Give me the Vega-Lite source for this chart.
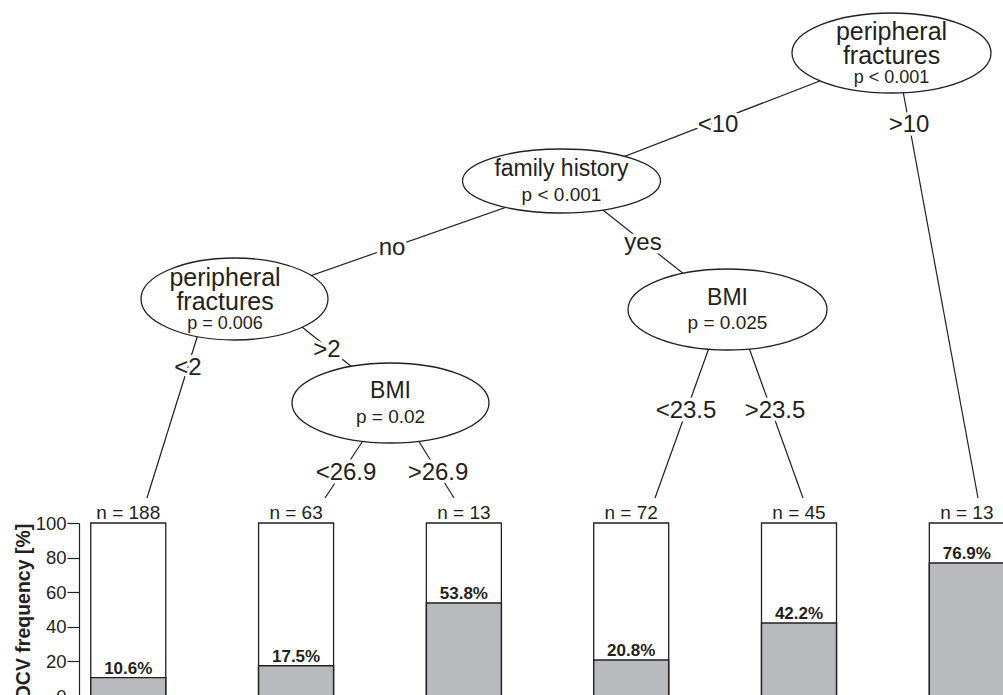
{
  "$schema": "https://vega.github.io/schema/vega-lite/v6.json",
  "autosize": {"type": "pad"},
  "padding": 0,
  "background": "white",
  "bounds": "flush",
  "spacing": 0,
  "config": {
    "font": "Liberation Sans",
    "view": {"stroke": null},
    "axis": {"labelOverlap": false, "labelSeparation": -40},
    "axisY": {"labelOverlap": false, "labelFlush": false, "labelBound": false, "labelSeparation": -40, "labelFontSize": 18.5, "labelPadding": 1, "tickSize": 12, "grid": false}
  },
  "datasets": {
    "nodes": [
      {"id": "n1", "x": 891.5, "y": 53, "label": "peripheral\nfractures", "p": "p < 0.001"},
      {"id": "n2", "x": 561.5, "y": 181, "label": "family history", "p": "p < 0.001"},
      {"id": "n3", "x": 225, "y": 299, "label": "peripheral\nfractures", "p": "p = 0.006"},
      {"id": "n4", "x": 390.5, "y": 403, "label": "BMI", "p": "p = 0.02"},
      {"id": "n5", "x": 727.5, "y": 309.5, "label": "BMI", "p": "p = 0.025"}
    ],
    "edges": [
      {"x": 892, "y": 53, "x2": 561, "y2": 181, "label": "<10", "lx": 718, "ly": 132},
      {"x": 896, "y": 53, "x2": 978, "y2": 498, "label": ">10", "lx": 909, "ly": 132},
      {"x": 561, "y": 188, "x2": 250, "y2": 297, "label": "no", "lx": 392, "ly": 255},
      {"x": 561, "y": 177, "x2": 727, "y2": 308, "label": "yes", "lx": 643, "ly": 250},
      {"x": 209, "y": 299, "x2": 147, "y2": 498, "label": "<2", "lx": 188, "ly": 375},
      {"x": 267, "y": 299, "x2": 397, "y2": 403, "label": ">2", "lx": 327, "ly": 357},
      {"x": 388, "y": 403, "x2": 325, "y2": 498, "label": "<26.9", "lx": 346, "ly": 480},
      {"x": 395, "y": 403, "x2": 454, "y2": 498, "label": ">26.9", "lx": 438, "ly": 480},
      {"x": 723, "y": 309, "x2": 655, "y2": 498, "label": "<23.5", "lx": 686, "ly": 418},
      {"x": 735, "y": 309, "x2": 803, "y2": 498, "label": ">23.5", "lx": 775, "ly": 418}
    ],
    "leaves": [
      {"leaf": 1, "cx": 124.5, "n": 188, "pct": 10.6},
      {"leaf": 2, "cx": 294, "n": 63, "pct": 17.5},
      {"leaf": 3, "cx": 463.5, "n": 13, "pct": 53.8},
      {"leaf": 4, "cx": 632.5, "n": 72, "pct": 20.8},
      {"leaf": 5, "cx": 802, "n": 45, "pct": 42.2},
      {"leaf": 6, "cx": 971.5, "n": 13, "pct": 76.9}
    ]
  },
  "vconcat": [
    {
      "width": 1003,
      "height": 523,
      "layer": [
        {
          "data": {"name": "edges"},
          "mark": {"type": "rule", "stroke": "#231f20", "strokeWidth": 1.2},
          "encoding": {
            "x": {"field": "x", "type": "quantitative", "scale": {"domain": [0, 1003], "nice": false, "zero": false}, "axis": null},
            "y": {"field": "y", "type": "quantitative", "scale": {"domain": [0, 523], "reverse": true, "nice": false, "zero": false}, "axis": null},
            "x2": {"field": "x2"},
            "y2": {"field": "y2"}
          }
        },
        {
          "data": {"name": "nodes"},
          "mark": {"type": "point", "size": 4, "fill": "white", "stroke": "#231f20", "strokeWidth": 1.3, "opacity": 1, "fillOpacity": 1},
          "encoding": {
            "x": {"field": "x", "type": "quantitative", "scale": {"domain": [0, 1003], "nice": false, "zero": false}, "axis": null},
            "y": {"field": "y", "type": "quantitative", "scale": {"domain": [0, 523], "reverse": true, "nice": false, "zero": false}, "axis": null},
            "shape": {
              "field": "id", "type": "nominal", "legend": null,
              "scale": {
                "domain": ["n1", "n2", "n3", "n4", "n5"],
                "range": [
                  "M -99.5 0 A 99.5 40 0 1 0 99.5 0 A 99.5 40 0 1 0 -99.5 0 Z",
                  "M -99 0 A 99 32 0 1 0 99 0 A 99 32 0 1 0 -99 0 Z",
                  "M -84 0 A 93.5 41 0 1 0 103 0 A 93.5 41 0 1 0 -84 0 Z",
                  "M -98.5 0 A 98.5 40 0 1 0 98.5 0 A 98.5 40 0 1 0 -98.5 0 Z",
                  "M -99.5 0 A 99.5 40.5 0 1 0 99.5 0 A 99.5 40.5 0 1 0 -99.5 0 Z"
                ]
              }
            }
          }
        },
        {
          "data": {"name": "edges"},
          "mark": {"type": "text", "fontSize": 24, "align": "center", "baseline": "alphabetic", "fill": "white", "stroke": "white", "strokeWidth": 7, "strokeJoin": "round"},
          "encoding": {
            "x": {"field": "lx", "type": "quantitative", "scale": {"domain": [0, 1003], "nice": false, "zero": false}, "axis": null},
            "y": {"field": "ly", "type": "quantitative", "scale": {"domain": [0, 523], "reverse": true, "nice": false, "zero": false}, "axis": null},
            "text": {"field": "label", "type": "nominal"}
          }
        },
        {
          "data": {"name": "edges"},
          "mark": {"type": "text", "fontSize": 24, "align": "center", "baseline": "alphabetic", "fill": "#231f20"},
          "encoding": {
            "x": {"field": "lx", "type": "quantitative", "scale": {"domain": [0, 1003], "nice": false, "zero": false}, "axis": null},
            "y": {"field": "ly", "type": "quantitative", "scale": {"domain": [0, 523], "reverse": true, "nice": false, "zero": false}, "axis": null},
            "text": {"field": "label", "type": "nominal"}
          }
        },
        {
          "data": {"name": "nodes"},
          "transform": [{"filter": {"field": "id", "oneOf": ["n1", "n3"]}}],
          "mark": {"type": "text", "fontSize": 25, "lineHeight": 24, "lineBreak": "\n", "align": "center", "baseline": "alphabetic", "dy": -13.5, "fill": "#231f20"},
          "encoding": {
            "x": {"field": "x", "type": "quantitative", "scale": {"domain": [0, 1003], "nice": false, "zero": false}, "axis": null},
            "y": {"field": "y", "type": "quantitative", "scale": {"domain": [0, 523], "reverse": true, "nice": false, "zero": false}, "axis": null},
            "text": {"field": "label", "type": "nominal"}
          }
        },
        {
          "data": {"name": "nodes"},
          "transform": [{"filter": {"field": "id", "oneOf": ["n1", "n3"]}}],
          "mark": {"type": "text", "fontSize": 18, "align": "center", "baseline": "alphabetic", "dy": 29.5, "fill": "#231f20"},
          "encoding": {
            "x": {"field": "x", "type": "quantitative", "scale": {"domain": [0, 1003], "nice": false, "zero": false}, "axis": null},
            "y": {"field": "y", "type": "quantitative", "scale": {"domain": [0, 523], "reverse": true, "nice": false, "zero": false}, "axis": null},
            "text": {"field": "p", "type": "nominal"}
          }
        },
        {
          "data": {"name": "nodes"},
          "transform": [{"filter": {"field": "id", "oneOf": ["n2", "n4", "n5"]}}],
          "mark": {"type": "text", "fontSize": 23, "align": "center", "baseline": "alphabetic", "dy": -5, "fill": "#231f20"},
          "encoding": {
            "x": {"field": "x", "type": "quantitative", "scale": {"domain": [0, 1003], "nice": false, "zero": false}, "axis": null},
            "y": {"field": "y", "type": "quantitative", "scale": {"domain": [0, 523], "reverse": true, "nice": false, "zero": false}, "axis": null},
            "text": {"field": "label", "type": "nominal"}
          }
        },
        {
          "data": {"name": "nodes"},
          "transform": [{"filter": {"field": "id", "oneOf": ["n2", "n4", "n5"]}}],
          "mark": {"type": "text", "fontSize": 19, "align": "center", "baseline": "alphabetic", "dy": 19.5, "fill": "#231f20"},
          "encoding": {
            "x": {"field": "x", "type": "quantitative", "scale": {"domain": [0, 1003], "nice": false, "zero": false}, "axis": null},
            "y": {"field": "y", "type": "quantitative", "scale": {"domain": [0, 523], "reverse": true, "nice": false, "zero": false}, "axis": null},
            "text": {"field": "p", "type": "nominal"}
          }
        }
      ]
    },
    {
      "width": 1003,
      "height": 173,
      "data": {"name": "leaves"},
      "encoding": {
        "x": {"field": "cx", "type": "quantitative", "scale": {"domain": [0, 1003], "nice": false, "zero": false}, "axis": null}
      },
      "layer": [
        {
          "mark": {"type": "bar", "width": 75, "fill": "white", "stroke": "#231f20", "strokeWidth": 1.3},
          "encoding": {
            "y": {
              "datum": 100, "type": "quantitative",
              "scale": {"domain": [0, 100], "nice": false},
              "axis": {
                "orient": "left", "offset": -79, "values": [0, 20, 40, 60, 80, 100], "grid": false,
                "labelOverlap": false, "labelSeparation": -40, "labelFlush": false, "labelBound": false,
                "tickSize": 12, "tickWidth": 1.2, "tickColor": "#231f20",
                "domainColor": "#231f20", "domainWidth": 1.2,
                "labelFontSize": 18.5, "labelColor": "#231f20", "labelPadding": 1, "labelFont": "Liberation Sans",
                "title": "DCV frequency [%]", "titleFontSize": 19.5, "titleFontWeight": "bold", "titleColor": "#231f20", "titleFont": "Liberation Sans",
                "titleX": -50, "titleY": 88, "titleAngle": -90, "titleAlign": "center", "titleBaseline": "alphabetic"
              }
            }
          }
        },
        {
          "mark": {"type": "bar", "width": 75, "fill": "#b9babd", "stroke": "#231f20", "strokeWidth": 1.4},
          "encoding": {
            "y": {
              "field": "pct", "type": "quantitative",
              "scale": {"domain": [0, 100], "nice": false},
              "axis": {
                "orient": "left", "offset": -79, "values": [0, 20, 40, 60, 80, 100], "grid": false,
                "labelOverlap": false, "labelSeparation": -40, "labelFlush": false, "labelBound": false,
                "tickSize": 12, "tickWidth": 1.2, "tickColor": "#231f20",
                "domainColor": "#231f20", "domainWidth": 1.2,
                "labelFontSize": 18.5, "labelColor": "#231f20", "labelPadding": 1, "labelFont": "Liberation Sans",
                "title": "DCV frequency [%]", "titleFontSize": 19.5, "titleFontWeight": "bold", "titleColor": "#231f20", "titleFont": "Liberation Sans",
                "titleX": -50, "titleY": 88, "titleAngle": -90, "titleAlign": "center", "titleBaseline": "alphabetic"
              }
            }
          }
        },
        {
          "mark": {"type": "text", "fontSize": 17, "fontWeight": "bold", "align": "center", "baseline": "alphabetic", "dy": -4, "fill": "#231f20", "text": {"expr": "format(datum.pct, '.1f') + '%'"}},
          "encoding": {
            "y": {
              "field": "pct", "type": "quantitative",
              "scale": {"domain": [0, 100], "nice": false},
              "axis": {
                "orient": "left", "offset": -79, "values": [0, 20, 40, 60, 80, 100], "grid": false,
                "labelOverlap": false, "labelSeparation": -40, "labelFlush": false, "labelBound": false,
                "tickSize": 12, "tickWidth": 1.2, "tickColor": "#231f20",
                "domainColor": "#231f20", "domainWidth": 1.2,
                "labelFontSize": 18.5, "labelColor": "#231f20", "labelPadding": 1, "labelFont": "Liberation Sans",
                "title": "DCV frequency [%]", "titleFontSize": 19.5, "titleFontWeight": "bold", "titleColor": "#231f20", "titleFont": "Liberation Sans",
                "titleX": -50, "titleY": 88, "titleAngle": -90, "titleAlign": "center", "titleBaseline": "alphabetic"
              }
            }
          }
        },
        {
          "mark": {"type": "text", "fontSize": 19, "align": "center", "baseline": "alphabetic", "dy": -4, "fill": "#231f20", "text": {"expr": "'n = ' + datum.n"}},
          "encoding": {
            "y": {
              "datum": 100, "type": "quantitative",
              "scale": {"domain": [0, 100], "nice": false},
              "axis": {
                "orient": "left", "offset": -79, "values": [0, 20, 40, 60, 80, 100], "grid": false,
                "labelOverlap": false, "labelSeparation": -40, "labelFlush": false, "labelBound": false,
                "tickSize": 12, "tickWidth": 1.2, "tickColor": "#231f20",
                "domainColor": "#231f20", "domainWidth": 1.2,
                "labelFontSize": 18.5, "labelColor": "#231f20", "labelPadding": 1, "labelFont": "Liberation Sans",
                "title": "DCV frequency [%]", "titleFontSize": 19.5, "titleFontWeight": "bold", "titleColor": "#231f20", "titleFont": "Liberation Sans",
                "titleX": -50, "titleY": 88, "titleAngle": -90, "titleAlign": "center", "titleBaseline": "alphabetic"
              }
            }
          }
        }
      ]
    }
  ]
}
